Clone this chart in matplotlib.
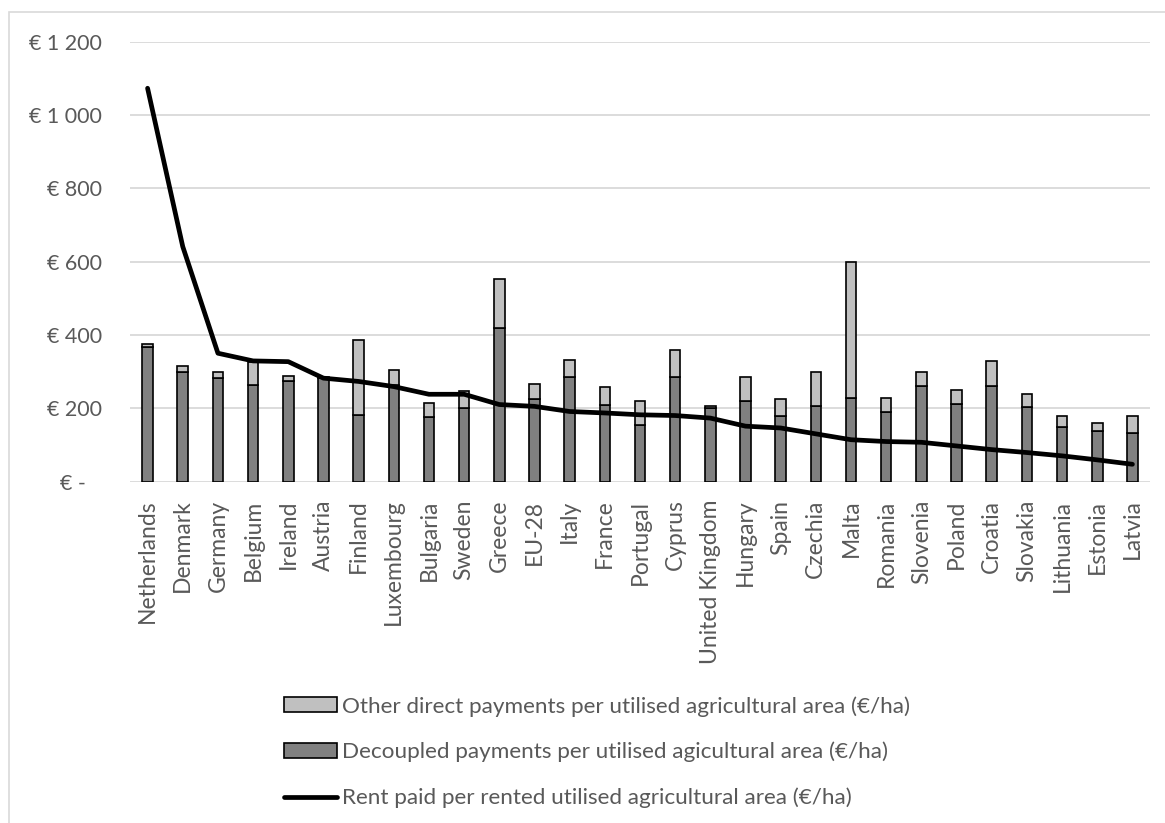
import numpy as np
import matplotlib
matplotlib.use('Agg')
import matplotlib.pyplot as plt
from matplotlib.patches import Rectangle, Patch
from matplotlib.lines import Line2D

plt.rcParams['font.family'] = ['Lato', 'DejaVu Sans']

countries = ['Netherlands', 'Denmark', 'Germany', 'Belgium', 'Ireland', 'Austria',
             'Finland', 'Luxembourg', 'Bulgaria', 'Sweden', 'Greece', 'EU-28', 'Italy',
             'France', 'Portugal', 'Cyprus', 'United Kingdom', 'Hungary', 'Spain',
             'Czechia', 'Malta', 'Romania', 'Slovenia', 'Poland', 'Croatia', 'Slovakia',
             'Lithuania', 'Estonia', 'Latvia']

# decoupled payments (EUR/ha)
decoupled = [368, 299, 282, 262, 275, 282, 182, 262, 175, 200, 418, 226, 286,
             210, 154, 286, 200, 221, 180, 207, 228, 189, 260, 211, 260, 202,
             150, 137, 131]
# other direct payments stacked on top (EUR/ha)
other = [7, 16, 17, 63, 12, 2, 204, 43, 38, 48, 134, 39, 45,
         49, 66, 73, 7, 65, 44, 93, 372, 40, 38, 38, 68, 38,
         29, 23, 47]
# rent paid per rented UAA (EUR/ha)
rent = [1073, 641, 350, 329, 327, 282, 273, 259, 238, 238, 210, 205, 191,
        187, 182, 180, 173, 151, 146, 130, 114, 109, 107, 97, 87, 79,
        70, 59, 47]

yticks = [0, 200, 400, 600, 800, 1000, 1200]
ytick_labels = ['€ -   ', '€ 200', '€ 400', '€ 600', '€ 800', '€ 1 000', '€ 1 200']

label_other = 'Other direct payments per utilised agricultural area (€/ha)'
label_dec = 'Decoupled payments per utilised agicultural area (€/ha)'
label_rent = 'Rent paid per rented utilised agricultural area (€/ha)'

txt_color = '#595959'
grid_color = '#d9d9d9'
dark = '#808080'
light = '#c0c0c0'

W, H = 1165, 823
fig = plt.figure(figsize=(W / 100, H / 100), dpi=100, facecolor='w')
ax = fig.add_axes([130 / W, 1 - 481.5 / H, 1020 / W, (481.5 - 41.7) / H])

x = np.arange(len(countries))
ax.bar(x, decoupled, width=0.3, color=dark, edgecolor='black', linewidth=1.2, zorder=2)
ax.bar(x, other, width=0.3, bottom=decoupled, color=light, edgecolor='black',
       linewidth=1.2, zorder=2)
ax.plot(x, rent, color='black', linewidth=3.4, solid_capstyle='round',
        solid_joinstyle='round', zorder=3)

ax.set_xlim(-0.5, len(countries) - 0.5)
ax.set_ylim(0, 1200)
ax.set_yticks(yticks)
ax.set_yticklabels(ytick_labels)
ax.set_xticks(x)
ax.set_xticklabels(countries, rotation=90)
ax.tick_params(axis='both', length=0, colors=txt_color)
ax.tick_params(axis='y', pad=20, labelsize=15.5)
ax.tick_params(axis='x', pad=13, labelsize=16.5)
ax.grid(axis='y', color=grid_color, linewidth=1.3, zorder=0)
ax.set_axisbelow(True)
for s in ax.spines.values():
    s.set_visible(False)

handles = [Patch(facecolor=light, edgecolor='black', linewidth=1.2),
           Patch(facecolor=dark, edgecolor='black', linewidth=1.2),
           Line2D([0], [0], color='black', linewidth=3.4, solid_capstyle='round')]
leg = fig.legend(handles, [label_other, label_dec, label_rent],
                 loc='center', bbox_to_anchor=(597 / W, 1 - 752 / H),
                 frameon=False, fontsize=16.2, handlelength=2.35, handletextpad=0.22,
                 handleheight=0.6, labelspacing=1.12, labelcolor=txt_color)

# chart area border
fig.add_artist(Rectangle((9 / W, -0.05), 1.1, 1.05 - 12 / H, transform=fig.transFigure,
                         fill=False, edgecolor=grid_color, linewidth=1.2))

fig.savefig('out.png', dpi=100, facecolor='w')
